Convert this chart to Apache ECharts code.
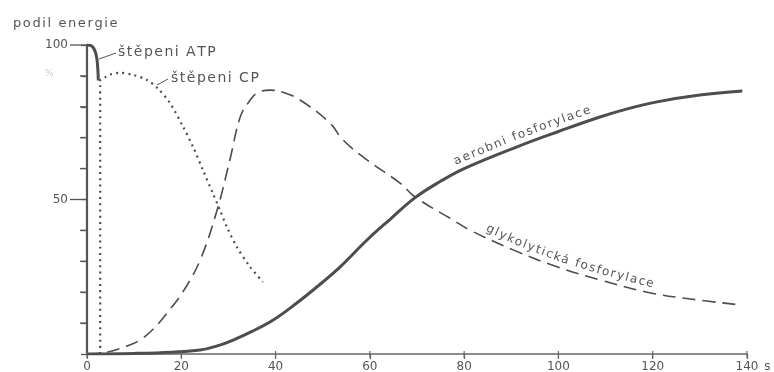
<!DOCTYPE html>
<html><head><meta charset="utf-8">
<script src="https://cdn.jsdelivr.net/npm/echarts@6/dist/echarts.min.js"></script>
<style>html,body{margin:0;padding:0;background:#fff}#c{width:774px;height:372px}</style>
</head><body><div id="c"></div>
<script>
// ---- data ----
const xTickValues = [0, 20, 40, 60, 80, 100, 120, 140];
const yLabelValues = [50, 100];
const yMinorTickValues = [10, 20, 30, 40, 60, 70, 80, 90];

// štěpení ATP
const atpX = [0, 1.0, 1.7, 2.1, 2.3, 2.4];
const atpY = [100, 99.7, 98, 95.5, 92, 88.5];

// štěpení CP (dotted)
const cpX = [2.8, 2.8, 3.8, 5, 7, 9.8, 12.7, 15, 17.6, 20.4, 22.5, 24.6, 26.7, 28.2, 29.7, 31.8, 34.6, 37.3];
const cpY = [0, 88.5, 89.5, 90.5, 91, 90.3, 88.7, 86, 81.2, 73.5, 67, 59.5, 52, 46.6, 41, 34.6, 28.2, 23.3];

// glykolytická fosforylace (dashed)
const glyX = [0, 4, 8, 11.2, 14, 17, 20.5, 24, 27.6, 30.3, 32.5, 34.3, 36.1, 38.8, 42, 45.2, 51.5, 54.3, 59.4, 66.4, 69.6, 77.6, 81.2, 90.4, 99.7, 108.8, 118.8, 128, 138.5];
const glyY = [0, 0.5, 2.3, 4.5, 8, 13.3, 20.5, 30.4, 46.6, 62.8, 76.7, 81.5, 84.5, 85.4, 84.5, 82.2, 74.8, 69.3, 62.8, 55.3, 50.8, 43.4, 40.1, 33.7, 28.2, 24, 20, 17.8, 15.9];

// aerobní fosforylace (solid)
const aerX = [0, 10, 18, 24, 28, 31, 35, 39.5, 44.5, 49, 53.7, 59.4, 64.3, 69.6, 74.9, 80, 91.5, 100, 108.8, 115, 120.9, 130, 139];
const aerY = [0, 0.2, 0.6, 1.3, 2.8, 4.5, 7.3, 11, 16.5, 22, 28.2, 36.9, 43.6, 50.6, 55.8, 60, 67.2, 72, 76.7, 79.5, 81.6, 83.8, 85.1];

// ---- chart ----
const FONT = '"DejaVu Sans", sans-serif';
const INK = '#4d4d4d';
const TXT = '#555';
const pairs = (xs, ys) => xs.map((x, i) => [x, ys[i]]);

const chart = echarts.init(document.getElementById('c'), null, {renderer: 'canvas'});
chart.setOption({
  animation: false,
  backgroundColor: '#fff',
  grid: {left: 87, right: 27, top: 45, bottom: 18, containLabel: false, outerBoundsMode: 'none'},
  xAxis: {
    type: 'value', min: 0, max: 140, interval: 20,
    name: 's', nameLocation: 'end', nameGap: 15,
    nameTextStyle: {fontSize: 12, color: TXT, fontFamily: FONT, verticalAlign: 'top', padding: [7, 0, 0, 0]},
    axisLine: {lineStyle: {color: '#666', width: 1.5}},
    axisTick: {show: true, length: 5, lineStyle: {color: '#666', width: 1.2}},
    axisLabel: {fontSize: 12, color: TXT, fontFamily: FONT, margin: 7,
      formatter: v => xTickValues.includes(v) ? String(v) : ''},
    splitLine: {show: false}
  },
  yAxis: {
    type: 'value', min: 0, max: 100, interval: 10,
    axisLine: {show: true, lineStyle: {color: '#555', width: 2.2}},
    axisTick: {show: true, length: 6, lineStyle: {color: '#555', width: 1.3}},
    axisLabel: {show: true, fontSize: 12, color: TXT, fontFamily: FONT, margin: 19,
      formatter: v => yLabelValues.includes(v) ? String(v) : ''},
    splitLine: {show: false}
  },
  series: [
    {name: 'aerobni fosforylace', type: 'line', data: pairs(aerX, aerY), symbol: 'none', smooth: 0.4,
      lineStyle: {color: INK, width: 3}, z: 4},
    {name: 'glykolytická fosforylace', type: 'line', data: pairs(glyX, glyY), symbol: 'none', smooth: 0.4,
      lineStyle: {color: INK, width: 1.6, type: [13, 7]}, z: 3},
    {name: 'štěpeni CP', type: 'line', data: pairs(cpX, cpY), symbol: 'none', smooth: 0.3,
      lineStyle: {color: INK, width: 2.2, type: [2, 4.2]}, z: 3},
    {name: 'štěpeni ATP', type: 'line', data: pairs(atpX, atpY), symbol: 'none', smooth: 0.4,
      lineStyle: {color: INK, width: 3}, z: 4}
  ]
});

// ---- text helpers ----
const mctx = document.createElement('canvas').getContext('2d');
function spacedText(str, x, y, size, spacing, color) {
  const font = size + 'px ' + FONT;
  mctx.font = font;
  const els = [];
  let cur = x;
  for (const ch of str) {
    const w = mctx.measureText(ch).width;
    els.push({type: 'text', x: cur, y: y, silent: true, z: 10,
      style: {text: ch, font: font, fill: color || TXT, align: 'left', verticalAlign: 'middle'}});
    cur += w + spacing;
  }
  return els;
}
function curveText(str, xs, ys, startX, off, size, spacing) {
  const font = size + 'px ' + FONT;
  mctx.font = font;
  const pts = xs.map((x, i) => chart.convertToPixel({gridIndex: 0}, [x, ys[i]]));
  const cum = [0];
  for (let i = 1; i < pts.length; i++) cum.push(cum[i - 1] + Math.hypot(pts[i][0] - pts[i - 1][0], pts[i][1] - pts[i - 1][1]));
  const pos = s => {
    let i = 1;
    while (i < pts.length - 1 && cum[i] < s) i++;
    const a = pts[i - 1], b = pts[i];
    const L = cum[i] - cum[i - 1] || 1;
    const t = (s - cum[i - 1]) / L;
    return [a[0] + (b[0] - a[0]) * t, a[1] + (b[1] - a[1]) * t];
  };
  const sp = chart.convertToPixel({gridIndex: 0}, [startX, 0])[0];
  let s0 = 0;
  for (let i = 1; i < pts.length; i++) {
    if (pts[i][0] >= sp) {
      const t = (sp - pts[i - 1][0]) / (pts[i][0] - pts[i - 1][0]);
      s0 = cum[i - 1] + t * (cum[i] - cum[i - 1]);
      break;
    }
  }
  const els = [];
  let cur = s0;
  for (const ch of str) {
    const w = mctx.measureText(ch).width;
    const sc = cur + w / 2;
    const p = pos(sc);
    const p1 = pos(sc - 8), p2 = pos(sc + 8);
    let tx = p2[0] - p1[0], ty = p2[1] - p1[1];
    const n = Math.hypot(tx, ty) || 1; tx /= n; ty /= n;
    const ux = ty, uy = -tx;
    els.push({type: 'text', x: p[0] + ux * off, y: p[1] + uy * off, rotation: -Math.atan2(ty, tx), silent: true, z: 10,
      style: {text: ch, font: font, fill: TXT, align: 'center', verticalAlign: 'middle'}});
    cur += w + spacing;
  }
  return els;
}

let graphics = [];
// y-axis ticks (long at labelled values, short in between)
yLabelValues.forEach(v => {
  const p = chart.convertToPixel({gridIndex: 0}, [0, v]);
  graphics.push({type: 'line', silent: true, z: 5, shape: {x1: p[0] - 17, y1: p[1], x2: p[0], y2: p[1]},
    style: {stroke: '#555', lineWidth: 1.3}});
});
yMinorTickValues.forEach(v => {
  const p = chart.convertToPixel({gridIndex: 0}, [0, v]);
  graphics.push({type: 'line', silent: true, z: 5, shape: {x1: p[0] - 7, y1: p[1], x2: p[0], y2: p[1]},
    style: {stroke: '#555', lineWidth: 1.3}});
});
// x-axis ticks
xTickValues.forEach(v => {
  const p = chart.convertToPixel({gridIndex: 0}, [v, 0]);
  graphics.push({type: 'line', silent: true, z: 5, shape: {x1: p[0], y1: p[1] - 3, x2: p[0], y2: p[1] + 4},
    style: {stroke: '#666', lineWidth: 1.2}});
});
graphics = graphics.concat(spacedText('podil energie', 13, 24, 13, 1.6));
graphics.push({type: 'text', x: 45, y: 74, silent: true,
  style: {text: '%', font: '9px ' + FONT, fill: '#cfcfcf', align: 'left', verticalAlign: 'middle'}});
graphics = graphics.concat(spacedText('štěpeni ATP', 118, 52, 14, 1.5));
graphics = graphics.concat(spacedText('štěpeni CP', 171, 78, 14, 1.5));
graphics.push({type: 'line', silent: true, shape: {x1: 99, y1: 59, x2: 116, y2: 53}, style: {stroke: TXT, lineWidth: 1}});
graphics.push({type: 'line', silent: true, shape: {x1: 157, y1: 85, x2: 168, y2: 79}, style: {stroke: TXT, lineWidth: 1}});
graphics = graphics.concat(curveText('aerobni fosforylace', aerX, aerY, 78.9, 10, 12, 1.6));
graphics = graphics.concat(curveText('glykolytická fosforylace', glyX, glyY, 84, 9, 12, 1.6));
chart.setOption({graphic: graphics});
</script>
</body></html>
